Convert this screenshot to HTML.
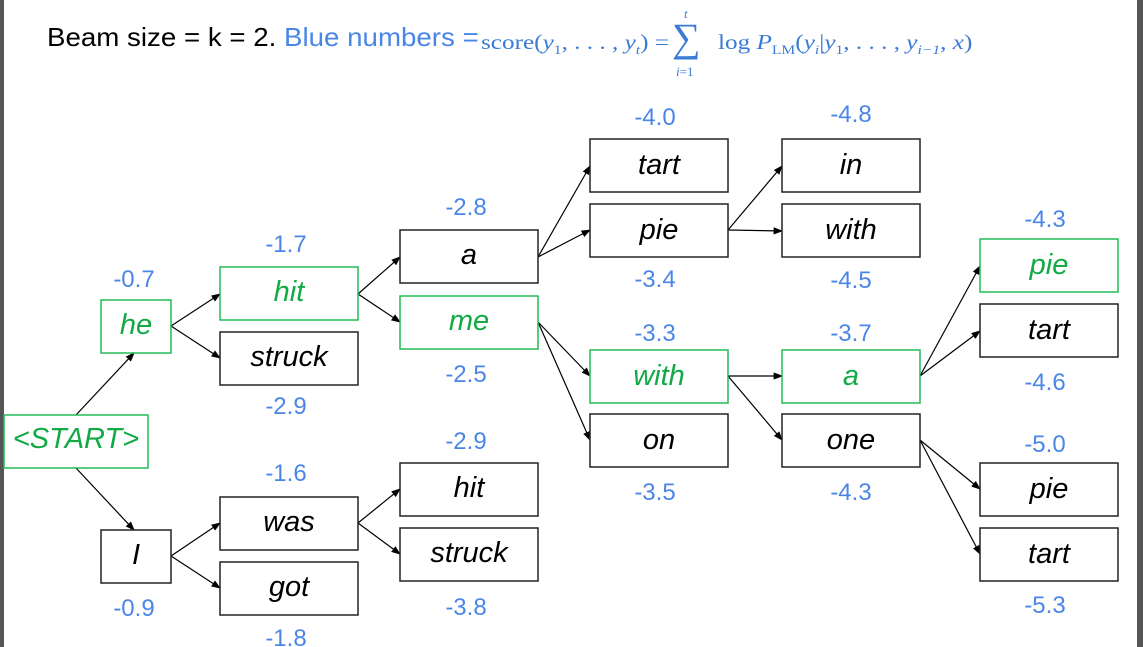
<!DOCTYPE html>
<html><head><meta charset="utf-8"><style>
body{margin:0;width:1143px;height:647px;overflow:hidden;background:#fff;position:relative;font-family:"Liberation Sans",sans-serif}
.bar{position:absolute;top:0;height:647px;background:#555}
.hdr{position:absolute;left:47px;top:22px;font-size:26px;color:#000;white-space:nowrap;transform:scaleX(1.065);transform-origin:left top}
.hdr .b{color:#4a86e8}
.m{font-family:"Liberation Serif",serif;color:#3a7bd5;white-space:nowrap;transform-origin:left top}
</style></head><body>
<div class="bar" style="left:0;width:4px"></div>
<div class="bar" style="left:1137px;width:6px"></div>
<div class="hdr">Beam size = k = 2. <span class="b">Blue numbers =</span></div>
<div class="m" style="position:absolute;left:481px;top:30px;font-size:21px;transform:scaleX(1.2)">score(<i>y</i><sub style="font-size:13px">1</sub>, . . . , <i>y<sub style="font-size:13px">t</sub></i>) =</div>
<div class="m" style="position:absolute;left:684px;top:6px;font-size:13px;font-style:italic">t</div>
<div class="m" style="position:absolute;left:672px;top:14px;font-size:40px">&sum;</div>
<div class="m" style="position:absolute;left:676px;top:64px;font-size:13px"><i>i</i>=1</div>
<div class="m" style="position:absolute;left:718px;top:30px;font-size:21px;transform:scaleX(1.2)">log <i>P</i><sub style="font-size:13px">LM</sub>(<i>y<sub style="font-size:13px">i</sub></i>|<i>y</i><sub style="font-size:13px">1</sub>, . . . , <i>y<sub style="font-size:13px">i&minus;1</sub></i>, <i>x</i>)</div>
<svg width="1143" height="647" style="position:absolute;left:0;top:0" xmlns="http://www.w3.org/2000/svg">
<defs><marker id="a" markerWidth="8" markerHeight="6" refX="7" refY="3" orient="auto"><path d="M0,0L8,3L0,6z" fill="#000"/></marker></defs>
<g stroke="#000" stroke-width="1.2" marker-end="url(#a)" fill="none">
<line x1="76" y1="415" x2="134" y2="353"/>
<line x1="76" y1="468" x2="134" y2="530"/>
<line x1="171" y1="326" x2="220" y2="294"/>
<line x1="171" y1="326" x2="220" y2="358"/>
<line x1="171" y1="556" x2="220" y2="523"/>
<line x1="171" y1="556" x2="220" y2="588"/>
<line x1="358" y1="294" x2="400" y2="257"/>
<line x1="358" y1="294" x2="400" y2="322"/>
<line x1="358" y1="523" x2="400" y2="489"/>
<line x1="358" y1="523" x2="400" y2="554"/>
<line x1="538" y1="257" x2="590" y2="166"/>
<line x1="538" y1="257" x2="590" y2="230"/>
<line x1="538" y1="322" x2="590" y2="376"/>
<line x1="538" y1="322" x2="590" y2="440"/>
<line x1="728" y1="230" x2="782" y2="166"/>
<line x1="728" y1="230" x2="782" y2="231"/>
<line x1="728" y1="376" x2="782" y2="376"/>
<line x1="728" y1="376" x2="782" y2="440"/>
<line x1="920" y1="376" x2="980" y2="266"/>
<line x1="920" y1="376" x2="980" y2="331"/>
<line x1="920" y1="440" x2="980" y2="489"/>
<line x1="920" y1="440" x2="980" y2="554"/>
</g>
<g font-family="Liberation Sans,sans-serif" font-style="italic" font-size="29" text-anchor="middle">
<g fill="#fff" stroke-width="1.5">
<rect x="4" y="415" width="144" height="53" stroke="#22bb55"/>
<rect x="101" y="300" width="70" height="53" stroke="#22bb55"/>
<rect x="101" y="530" width="70" height="53" stroke="#222"/>
<rect x="220" y="267" width="138" height="53" stroke="#22bb55"/>
<rect x="220" y="332" width="138" height="53" stroke="#222"/>
<rect x="220" y="497" width="138" height="53" stroke="#222"/>
<rect x="220" y="562" width="138" height="53" stroke="#222"/>
<rect x="400" y="230" width="138" height="53" stroke="#222"/>
<rect x="400" y="296" width="138" height="53" stroke="#22bb55"/>
<rect x="400" y="463" width="138" height="53" stroke="#222"/>
<rect x="400" y="528" width="138" height="53" stroke="#222"/>
<rect x="590" y="139" width="138" height="53" stroke="#222"/>
<rect x="590" y="204" width="138" height="53" stroke="#222"/>
<rect x="590" y="350" width="138" height="53" stroke="#22bb55"/>
<rect x="590" y="414" width="138" height="53" stroke="#222"/>
<rect x="782" y="139" width="138" height="53" stroke="#222"/>
<rect x="782" y="204" width="138" height="53" stroke="#222"/>
<rect x="782" y="350" width="138" height="53" stroke="#22bb55"/>
<rect x="782" y="414" width="138" height="53" stroke="#222"/>
<rect x="980" y="239" width="138" height="53" stroke="#22bb55"/>
<rect x="980" y="304" width="138" height="53" stroke="#222"/>
<rect x="980" y="463" width="138" height="53" stroke="#222"/>
<rect x="980" y="528" width="138" height="53" stroke="#222"/>
</g>
<g fill="#11aa44">
<text x="76" y="448">&lt;START&gt;</text>
<text x="136" y="334">he</text>
<text x="289" y="301">hit</text>
<text x="469" y="330">me</text>
<text x="659" y="385">with</text>
<text x="851" y="385">a</text>
<text x="1049" y="274">pie</text>
</g>
<g fill="#000">
<text x="136" y="564">I</text>
<text x="289" y="366">struck</text>
<text x="289" y="531">was</text>
<text x="289" y="596">got</text>
<text x="469" y="264">a</text>
<text x="469" y="497">hit</text>
<text x="469" y="562">struck</text>
<text x="659" y="174">tart</text>
<text x="659" y="239">pie</text>
<text x="659" y="449">on</text>
<text x="851" y="174">in</text>
<text x="851" y="239">with</text>
<text x="851" y="449">one</text>
<text x="1049" y="339">tart</text>
<text x="1049" y="498">pie</text>
<text x="1049" y="563">tart</text>
</g>
</g>
<g font-family="Liberation Sans,sans-serif" font-size="24" fill="#4a86e8" text-anchor="middle">
<text x="134" y="287">-0.7</text><text x="134" y="616">-0.9</text>
<text x="286" y="252">-1.7</text><text x="286" y="414">-2.9</text>
<text x="286" y="481">-1.6</text><text x="286" y="646">-1.8</text>
<text x="466" y="215">-2.8</text><text x="466" y="382">-2.5</text>
<text x="466" y="449">-2.9</text><text x="466" y="615">-3.8</text>
<text x="655" y="125">-4.0</text><text x="655" y="287">-3.4</text>
<text x="655" y="341">-3.3</text><text x="655" y="500">-3.5</text>
<text x="851" y="122">-4.8</text><text x="851" y="288">-4.5</text>
<text x="851" y="341">-3.7</text><text x="851" y="500">-4.3</text>
<text x="1045" y="227">-4.3</text><text x="1045" y="390">-4.6</text>
<text x="1045" y="452">-5.0</text><text x="1045" y="613">-5.3</text>
</g>
</svg>
</body></html>
